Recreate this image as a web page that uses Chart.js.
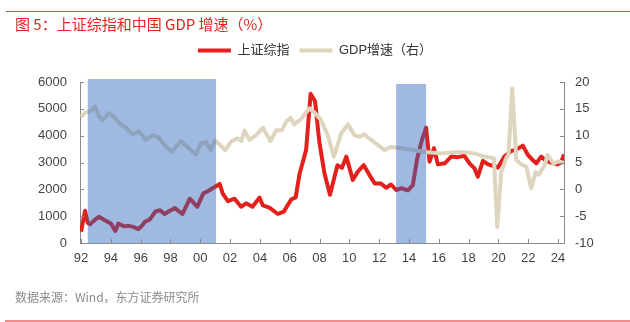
<!DOCTYPE html>
<html>
<head>
<meta charset="utf-8">
<script src="https://cdn.jsdelivr.net/npm/chart.js@4/dist/chart.umd.min.js"></script>
<style>
  html, body { margin: 0; padding: 0; background: #fff; overflow: hidden; }
  #wrap { position: relative; width: 630px; height: 322px; }
  #c { position: absolute; left: 0; top: 0; }
  .topline { position: absolute; left: 6px; top: 11px; width: 624px; height: 1px; background: #e8403c; }
  .title { position: absolute; left: 15px; top: 13px; font: 15px "Noto Sans CJK SC", sans-serif; color: #e0251f; white-space: nowrap; }
  .source { position: absolute; left: 15px; top: 288px; font: 12px "Noto Sans CJK SC", sans-serif; color: #8a8a8a; white-space: nowrap; }
  .botline { position: absolute; left: 5px; top: 320px; width: 625px; height: 2px; background: #f08c8c; }
</style>
</head>
<body>
<div id="wrap">
  <canvas id="c" width="630" height="322"></canvas>
  <div class="topline"></div>
  <div class="title">图 5：上证综指和中国 GDP 增速（%）</div>
  <div class="source">数据来源：Wind，东方证券研究所</div>
  <div class="botline"></div>
</div>
<script>
// ---- Data ----
const seriesNames = ['上证综指', 'GDP增速（右）'];

const sseDates = [1992.0,1992.27,1992.45,1992.6,1992.9,1993.2,1993.5,1994.0,1994.3,1994.5,1994.9,1995.2,1995.5,1995.85,1996.1,1996.3,1996.6,1997.0,1997.3,1997.6,1997.9,1998.3,1998.8,1999.3,1999.8,2000.2,2000.5,2000.85,2001.3,2001.5,2001.85,2002.3,2002.74,2003.07,2003.5,2003.97,2004.2,2004.64,2005.2,2005.6,2006.1,2006.4,2006.65,2007.1,2007.4,2007.7,2007.99,2008.33,2008.7,2009.2,2009.5,2009.8,2010.23,2010.57,2010.97,2011.35,2011.7,2012.1,2012.47,2012.8,2013.14,2013.5,2013.93,2014.26,2014.55,2014.87,2015.15,2015.38,2015.67,2015.94,2016.4,2016.83,2017.28,2017.72,2018.06,2018.4,2018.62,2018.96,2019.3,2019.63,2019.97,2020.4,2020.86,2021.2,2021.64,2021.98,2022.3,2022.54,2022.87,2023.2,2023.54,2023.95,2024.2,2024.4];
const sseValues = [420,1200,750,700,850,980,880,730,450,720,620,640,600,520,650,800,870,1180,1220,1080,1180,1300,1080,1650,1350,1850,1930,2050,2200,1850,1560,1650,1350,1480,1350,1690,1400,1320,1080,1170,1620,1700,2550,3470,5560,5280,3750,2600,1800,2900,2800,3220,2350,2660,2900,2530,2220,2220,2060,2180,1975,2040,1960,2160,3150,3840,4300,3030,3530,2930,2970,3220,3200,3250,2970,2780,2470,3060,2930,2880,2810,3220,3430,3480,3630,3280,3090,2970,3220,3060,3000,2930,3000,3300];

const gdpDates = [1992.0,1992.3,1992.65,1992.94,1993.2,1993.43,1993.88,1994.2,1994.66,1995.0,1995.45,1995.9,1996.34,1996.8,1997.2,1997.57,1998.08,1998.69,1999.13,1999.7,2000.03,2000.4,2000.7,2001.0,2001.3,2001.66,2002.07,2002.5,2002.75,2002.97,2003.3,2003.75,2004.2,2004.7,2005.1,2005.47,2005.76,2006.05,2006.3,2006.76,2007.32,2007.7,2008.1,2008.55,2008.96,2009.45,2009.9,2010.34,2010.7,2011.0,2011.46,2011.9,2012.36,2012.76,2013.25,2013.9,2014.55,2015.26,2016.15,2017.05,2017.72,2018.4,2019.07,2019.7,2019.92,2020.19,2020.52,2020.68,2020.93,2021.2,2021.43,2021.64,2021.87,2022.2,2022.5,2022.7,2023.1,2023.3,2023.7,2024.0,2024.3,2024.45];
const gdpValues = [13.5,14.35,14.6,15.4,13.6,12.9,14.2,13.5,12.1,11.5,10.25,10.8,9.2,10.1,9.7,8.3,7.0,9.0,7.9,6.5,8.6,8.8,7.3,9.1,8.3,7.3,8.9,9.5,9.0,10.9,9.2,10.1,11.5,9.0,11.0,11.0,12.6,13.3,12.1,13.1,15.1,14.2,12.9,10.1,6.1,10.4,12.1,10.1,9.8,10.25,9.2,8.3,7.3,7.9,7.75,7.5,7.2,6.9,6.7,6.9,6.9,6.7,6.1,5.8,-7.0,3.2,5.8,6.5,18.8,5.5,4.9,4.5,4.2,0.2,3.2,2.7,4.5,6.4,4.8,5.2,5.0,4.7];

// shaded periods (year start, year end, top value on left axis)
const shadeStart = [1992.45, 2013.14];
const shadeEnd   = [2001.06, 2015.15];
const shadeTop   = [6110, 5930];

const leftTicks  = [0, 1000, 2000, 3000, 4000, 5000, 6000];
const rightTicks = [-10, -5, 0, 5, 10, 15, 20];

// ---- Build ----
const ssePts = sseDates.map((d, i) => ({ x: d, y: sseValues[i] }));
const gdpPts = gdpDates.map((d, i) => ({ x: d, y: gdpValues[i] }));

const RED = '#e3201b';
const BEIGE = '#ddd5bd';
const AXIS = '#8a8a8a';
const NUMFONT = '"Liberation Sans", Arial, sans-serif';
const CJKFONT = '"Liberation Sans", "Noto Sans CJK SC", sans-serif';

const shadePlugin = {
  id: 'shade',
  afterDatasetsDraw(chart) {
    const { ctx, scales } = chart;
    const x = scales.x, y = scales.y;
    ctx.save();
    ctx.fillStyle = 'rgba(44,100,189,0.45)';
    for (let i = 0; i < shadeStart.length; i++) {
      const x0 = x.getPixelForValue(shadeStart[i]);
      const x1 = x.getPixelForValue(shadeEnd[i]);
      const yt = y.getPixelForValue(shadeTop[i]);
      const yb = y.getPixelForValue(0);
      ctx.fillRect(x0, yt, x1 - x0, yb - yt);
    }
    ctx.restore();
  }
};

const tickMarkPlugin = {
  id: 'tickMarks',
  afterDraw(chart) {
    const { ctx, scales, chartArea } = chart;
    ctx.save();
    ctx.strokeStyle = AXIS;
    ctx.lineWidth = 1;
    const L = 4;
    ctx.beginPath();
    scales.x.ticks.forEach((t, i) => {
      const px = Math.round(scales.x.getPixelForTick(i)) + 0.5;
      ctx.moveTo(px, chartArea.bottom);
      ctx.lineTo(px, chartArea.bottom - L);
    });
    scales.y.ticks.forEach((t, i) => {
      const py = Math.round(scales.y.getPixelForTick(i)) + 0.5;
      ctx.moveTo(chartArea.left, py);
      ctx.lineTo(chartArea.left + L, py);
    });
    scales.y1.ticks.forEach((t, i) => {
      const py = Math.round(scales.y1.getPixelForTick(i)) + 0.5;
      ctx.moveTo(chartArea.right, py);
      ctx.lineTo(chartArea.right - L, py);
    });
    ctx.stroke();
    ctx.restore();
  }
};

const legendSizePlugin = {
  id: 'legendSize',
  beforeLayout(chart) {
    const lg = chart.legend;
    if (lg && !lg._patched) {
      const f = lg.fit.bind(lg);
      lg.fit = function () { f(); this.height = 48; };
      lg._patched = true;
    }
  }
};

new Chart(document.getElementById('c'), {
  type: 'line',
  data: {
    datasets: [
      { label: seriesNames[0], data: ssePts, yAxisID: 'y', borderColor: RED, backgroundColor: RED,
        borderWidth: 4, pointRadius: 0, tension: 0, order: 2, borderJoinStyle: 'round' },
      { label: seriesNames[1], data: gdpPts, yAxisID: 'y1', borderColor: BEIGE, backgroundColor: BEIGE,
        borderWidth: 4, pointRadius: 0, tension: 0, order: 1, borderJoinStyle: 'round' }
    ]
  },
  options: {
    responsive: false,
    animation: false,
    events: [],
    layout: { padding: { top: 34, left: 0, right: 0, bottom: 0 } },
    plugins: {
      tooltip: { enabled: false },
      legend: {
        display: true,
        position: 'top',
        labels: {
          boxWidth: 33, boxHeight: 4, padding: 10,
          color: '#333', font: { size: 13, family: CJKFONT },
          sort: (a, b) => a.datasetIndex - b.datasetIndex,
          generateLabels(chart) {
            return Chart.defaults.plugins.legend.labels.generateLabels(chart).map(l => ({ ...l, lineWidth: 0 }));
          }
        }
      }
    },
    scales: {
      x: {
        type: 'linear', min: 1991.93, max: 2024.4,
        grid: { display: true, drawOnChartArea: false, drawTicks: false },
        border: { display: true, color: AXIS, width: 1 },
        ticks: {
          stepSize: 2, includeBounds: false, padding: 8, maxRotation: 0, autoSkip: false,
          color: '#444', font: { size: 13, family: NUMFONT },
          callback: v => String(Math.round(v) % 100).padStart(2, '0')
        },
        afterFit(s) { s.height = 79; }
      },
      y: {
        position: 'left', min: leftTicks[0], max: leftTicks[leftTicks.length - 1],
        grid: { display: true, drawOnChartArea: false, drawTicks: false },
        border: { display: true, color: AXIS, width: 1 },
        ticks: { stepSize: 1000, padding: 13, color: '#444', font: { size: 13, family: NUMFONT },
                 callback: v => String(v) },
        afterFit(s) { s.width = 80; }
      },
      y1: {
        position: 'right', min: rightTicks[0], max: rightTicks[rightTicks.length - 1],
        grid: { display: true, drawOnChartArea: false, drawTicks: false },
        border: { display: true, color: AXIS, width: 1 },
        ticks: { stepSize: 5, padding: 11, color: '#444', font: { size: 13, family: NUMFONT },
                 callback: v => String(v) },
        afterFit(s) { s.width = 66; }
      }
    }
  },
  plugins: [legendSizePlugin, shadePlugin, tickMarkPlugin]
});
</script>
</body>
</html>
